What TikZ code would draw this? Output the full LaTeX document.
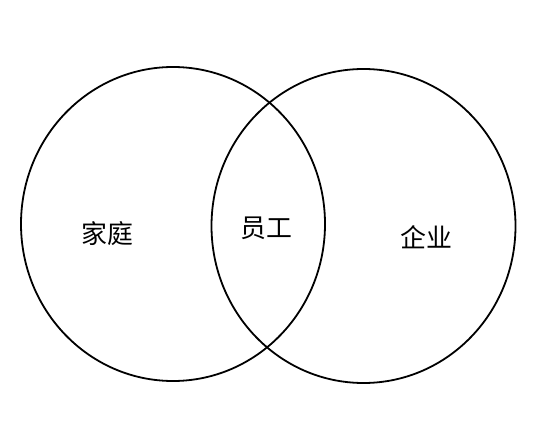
\documentclass[tikz,border=0pt]{standalone}
\usepackage{fontspec}
\newfontfamily\cjk{Noto Sans CJK SC}
\usetikzlibrary{shapes.geometric}
\tikzset{
  setcircle/.style={draw=black, line width=1.8bp, ellipse, minimum width=304bp, minimum height=314bp, inner sep=0pt},
  setlabel/.style={font=\cjk\fontsize{26}{26}\selectfont, inner sep=0pt, text=black}
}
\begin{document}
\begin{tikzpicture}[x=1bp,y=-1bp]
\useasboundingbox (0,0) rectangle (540,447);
\node[setcircle] (family) at (173,224) {};
\node[setcircle] (firm) at (363.5,226) {};
\node[setlabel] (jt) at (107,234) {家庭};
\node[setlabel] (yg) at (266,228) {员工};
\node[setlabel] (qy) at (426,237) {企业};
\end{tikzpicture}
\end{document}
